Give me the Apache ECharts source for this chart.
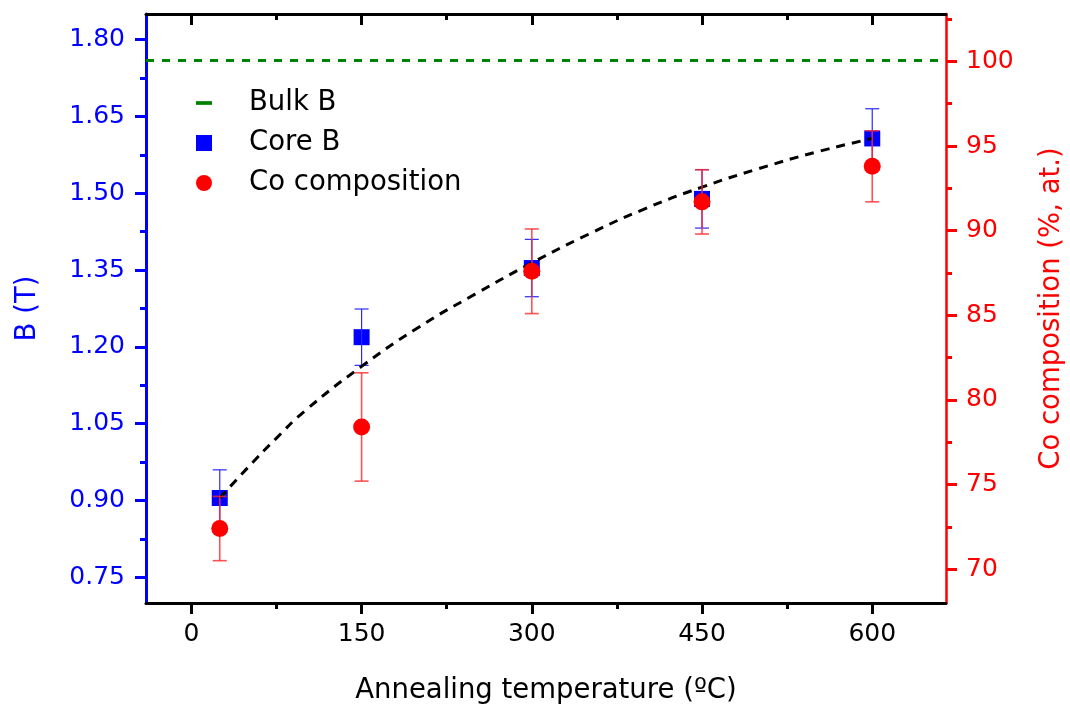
<!DOCTYPE html>
<html>
<head>
<meta charset="utf-8">
<title>Core B and Co composition vs annealing temperature</title>
<script src="https://cdn.jsdelivr.net/npm/echarts@6/dist/echarts.min.js"></script>
<style>
  html, body { margin: 0; padding: 0; background: #fff; }
  #chart { width: 1070px; height: 707px; }
</style>
</head>
<body>
<div id="chart"></div>
<script>
// Annealing temperatures (°C) of the measured samples
const temps = [25, 150, 300, 450, 600];
// Core saturation induction B (T) and its uncertainty
const coreB = [0.905, 1.219, 1.354, 1.489, 1.607];
const coreBErr = [0.055, 0.055, 0.056, 0.057, 0.058];
// Co content of the core (%, at.) and its uncertainty
const coComp = [72.4, 78.4, 87.6, 91.7, 93.8];
const coCompErr = [1.9, 3.2, 2.5, 1.9, 2.1];
// Bulk Co induction (T)
const bulkB = 1.76;
// Guide-to-the-eye trend through the core B values
const trendT = [25, 50, 75, 100, 150, 200, 250, 300, 350, 400, 450, 500, 550, 600];
const trendB = [0.905, 0.965, 1.022, 1.075, 1.162, 1.238, 1.303, 1.364, 1.420, 1.470, 1.512, 1.548, 1.580, 1.607];
// Axis ticks
const xTicks = [0, 150, 300, 450, 600];
const xMinorTicks = [75, 225, 375, 525];
const bTicks = [0.75, 0.90, 1.05, 1.20, 1.35, 1.50, 1.65, 1.80];
const bMinorTicks = [0.825, 0.975, 1.125, 1.275, 1.425, 1.575, 1.725];
const coTicks = [70, 75, 80, 85, 90, 95, 100];
const coMinorTicks = [72.5, 77.5, 82.5, 87.5, 92.5, 97.5, 102.5];

const FONT = 'DejaVu Sans';
const BLUE = '#0000ff';
const RED = '#ff0000';
const GREEN = '#008000';

const zip = (a, b) => a.map((v, i) => [v, b[i]]);
const bands = (xs, ys, es) => xs.map((x, i) => [x, ys[i] - es[i], ys[i] + es[i]]);

function errorBars(color, width, capHalf) {
  return function (params, api) {
    const x = api.value(0);
    const lo = api.coord([x, api.value(1)]);
    const hi = api.coord([x, api.value(2)]);
    const style = { stroke: color, lineWidth: width, fill: null };
    return {
      type: 'group',
      children: [
        { type: 'line', shape: { x1: hi[0], y1: hi[1], x2: lo[0], y2: lo[1] }, style },
        { type: 'line', shape: { x1: hi[0] - capHalf, y1: hi[1], x2: hi[0] + capHalf, y2: hi[1] }, style },
        { type: 'line', shape: { x1: lo[0] - capHalf, y1: lo[1], x2: lo[0] + capHalf, y2: lo[1] }, style }
      ]
    };
  };
}

const X_MIN = -40, X_MAX = 665;
const B_MIN = 0.70, B_MAX = 1.85;
const CO_MIN = 68, CO_MAX = 102.8;

function xAxisCfg(position, values, len, inside, extra) {
  return Object.assign({
    type: 'value', position, min: X_MIN, max: X_MAX,
    axisLine: { show: false, onZero: false },
    axisTick: { show: true, inside, length: len, customValues: values, lineStyle: { color: '#000', width: 3 } },
    axisLabel: { show: false },
    splitLine: { show: false }
  }, extra || {});
}

function yAxisCfg(position, min, max, values, len, color, extra) {
  return Object.assign({
    type: 'value', position, min, max,
    axisLine: { show: false, onZero: false },
    axisTick: { show: true, length: len, customValues: values, lineStyle: { color, width: 3 } },
    axisLabel: { show: false },
    splitLine: { show: false }
  }, extra || {});
}

const chart = echarts.init(document.getElementById('chart'), null, { renderer: 'canvas' });

chart.setOption({
  animation: false,
  backgroundColor: '#fff',
  grid: { left: 146, right: 124, top: 14, bottom: 104, containLabel: false, outerBoundsMode: 'none' },
  legend: {
    left: 196, top: 88, orient: 'vertical', padding: 0,
    itemWidth: 16, itemHeight: 16, itemGap: 10,
    textStyle: { fontFamily: FONT, fontSize: 27.5, color: '#000', lineHeight: 30, padding: [0, 0, 0, 32] },
    data: [
      { name: 'Bulk B', icon: 'path://M0,0h13v3h-13z', itemStyle: { color: GREEN } },
      { name: 'Core B', icon: 'path://M0,0h14v14h-14z', itemStyle: { color: BLUE } },
      { name: 'Co composition', icon: 'circle', itemStyle: { color: RED } }
    ]
  },
  xAxis: [
    xAxisCfg('bottom', xTicks, 11, false, {
      axisLine: { show: true, onZero: false, lineStyle: { color: '#000', width: 3 } },
      axisLabel: { show: true, customValues: xTicks, margin: 19, color: '#000', fontFamily: FONT, fontSize: 25 },
      name: 'Annealing temperature (ºC)', nameLocation: 'middle', nameGap: 74,
      nameTextStyle: { fontFamily: FONT, fontSize: 27.5, color: '#000' }
    }),
    xAxisCfg('bottom', xMinorTicks, 6, false),
    xAxisCfg('top', xTicks, 11, true, {
      axisLine: { show: true, onZero: false, lineStyle: { color: '#000', width: 3 } }
    }),
    xAxisCfg('top', xMinorTicks, 6, true)
  ],
  yAxis: [
    yAxisCfg('left', B_MIN, B_MAX, bTicks, 11, BLUE, {
      axisLine: { show: true, onZero: false, lineStyle: { color: BLUE, width: 3 } },
      axisLabel: { show: true, customValues: bTicks, margin: 21, color: BLUE, fontFamily: FONT, fontSize: 25,
        formatter: v => v.toFixed(2) },
      name: 'B (T)', nameLocation: 'middle', nameRotate: 90, nameGap: 104,
      nameTextStyle: { fontFamily: FONT, fontSize: 27.5, color: BLUE }
    }),
    yAxisCfg('right', CO_MIN, CO_MAX, coTicks, 11, RED, {
      axisLine: { show: true, onZero: false, lineStyle: { color: RED, width: 2.5 } },
      axisLabel: { show: true, customValues: coTicks, margin: 20, color: RED, fontFamily: FONT, fontSize: 25 },
      name: 'Co composition (%, at.)', nameLocation: 'middle', nameRotate: 90, nameGap: 92,
      nameTextStyle: { fontFamily: FONT, fontSize: 27.5, color: RED }
    }),
    yAxisCfg('left', B_MIN, B_MAX, bMinorTicks, 6, BLUE),
    yAxisCfg('right', CO_MIN, CO_MAX, coMinorTicks, 6, RED)
  ],
  series: [
    {
      name: 'Bulk B', type: 'line', xAxisIndex: 0, yAxisIndex: 0,
      data: [], symbol: 'none', silent: true,
      lineStyle: { color: GREEN, width: 3, type: [8, 8] },
      itemStyle: { color: GREEN },
      markLine: {
        silent: true, symbol: ['none', 'none'], label: { show: false },
        lineStyle: { color: GREEN, width: 3, type: [8, 8] },
        data: [{ yAxis: bulkB }]
      }
    },
    {
      name: 'Core B', type: 'scatter', xAxisIndex: 0, yAxisIndex: 0,
      symbol: 'rect', symbolSize: 16, itemStyle: { color: BLUE, opacity: 1 },
      data: zip(temps, coreB), z: 2
    },
    {
      name: 'Core B error', type: 'custom', xAxisIndex: 0, yAxisIndex: 0,
      renderItem: errorBars('#2a2aff', 1.2, 7), data: bands(temps, coreB, coreBErr), z: 3, silent: true
    },
    {
      name: 'Trend', type: 'line', xAxisIndex: 0, yAxisIndex: 0,
      data: zip(trendT, trendB), smooth: true, symbol: 'none',
      lineStyle: { color: '#000', width: 3, type: [9, 7] }, z: 4, silent: true
    },
    {
      name: 'Co composition error', type: 'custom', xAxisIndex: 0, yAxisIndex: 1,
      renderItem: errorBars('rgba(255,40,40,0.8)', 1.6, 7), data: bands(temps, coComp, coCompErr), z: 5, silent: true
    },
    {
      name: 'Co composition', type: 'scatter', xAxisIndex: 0, yAxisIndex: 1,
      symbol: 'circle', symbolSize: 17, itemStyle: { color: RED, opacity: 1 },
      data: zip(temps, coComp), z: 6
    }
  ]
});
</script>
</body>
</html>
